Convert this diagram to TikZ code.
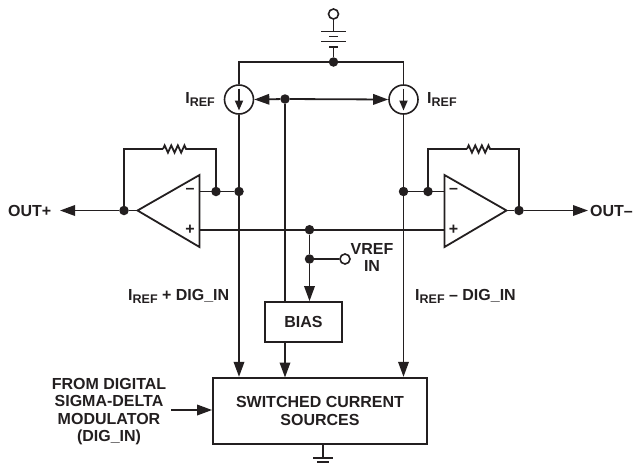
\documentclass[tikz,border=0pt]{standalone}
\usepackage{fontspec}
\setmainfont{Liberation Sans}
\usetikzlibrary{arrows.meta,decorations.pathmorphing}
\definecolor{ink}{HTML}{231F20}
\newcommand{\iref}{I\raisebox{-3pt}{\fontsize{12.5}{13}\selectfont REF}}
\tikzset{
  wire/.style={draw=ink, line width=1.8pt},
  sig/.style={wire, -{Triangle[length=15pt,width=10.5pt]}},
  sigin/.style={wire, -{Triangle[length=10pt,width=8pt]}},
  dot/.style={circle, fill=ink, inner sep=0pt, minimum size=9.5pt},
  term/.style={circle, draw=ink, line width=1.6pt, fill=white, inner sep=0pt, minimum size=10pt},
  isrc/.style={circle, draw=ink, line width=1.6pt, inner sep=0pt, minimum size=29pt},
  blockbox/.style={rectangle, draw=ink, line width=1.8pt, inner sep=0pt},
  lbl/.style={inner sep=0pt, text=ink, font=\bfseries\fontsize{16}{17.5}\selectfont, align=center},
  res/.style={decorate, decoration={zigzag, segment length=6.6pt, amplitude=3.6pt}}
}
\begin{document}
\begin{tikzpicture}[x=1pt, y=-1pt]
\useasboundingbox (0,0) rectangle (634,464);

% supply
\node[term] (vs) at (333.5,14) {};
\node[dot] (jtop) at (333.5,62) {};
\node[isrc] (isrcl) at (239,99.5) {};
\node[isrc] (isrcr) at (403.5,99.5) {};
\coordinate (bat1) at (333.5,31.5);
\coordinate (bat2) at (333.5,36.5);
\coordinate (bat3) at (333.5,41.5);
\coordinate (bat4) at (333.5,47);
\draw[wire] (vs) -- (bat1);
\draw[wire] ([xshift=-12.5pt]bat1) -- ([xshift=12.5pt]bat1);
\draw[wire] ([xshift=-4.5pt]bat2) -- ([xshift=4.5pt]bat2);
\draw[wire] ([xshift=-12.5pt]bat3) -- ([xshift=12.5pt]bat3);
\draw[wire] ([xshift=-4.5pt]bat4) -- ([xshift=4.5pt]bat4);
\draw[wire] (bat4) -- (jtop);
\draw[wire] (isrcl.north) |- (jtop) -| (isrcr.north);
\foreach \s in {isrcl,isrcr}
  \draw[sigin] ([yshift=11pt]\s.center) -- ([yshift=-11pt]\s.center);

% blocks
\node[blockbox, minimum width=77pt, minimum height=40pt] (bias) at (303.5,322) {};
\node[blockbox, minimum width=214pt, minimum height=66.5pt] (sw) at (320,411) {};
\node[lbl] at (bias.center) {BIAS};
\node[lbl] at (sw.center) {SWITCHED CURRENT\\SOURCES};

% bias line
\node[dot] (jbias) at (285,99) {};
\draw[sig] (jbias) -- (isrcl.east);
\draw[sig] (jbias) -- (isrcr.west);
\coordinate (bt) at (285,302);
\draw[wire] (jbias) -- (bt);
\draw[sig] (285,342) -- (285,377.5);

% left amp
\coordinate (ala) at (137.5,210.5);
\coordinate (alt) at (199.5,175);
\coordinate (alb) at (199.5,247);
\draw[wire, line join=miter] (ala) -- (alt) -- (alb) -- cycle;
\node[lbl] at (190,191) {--};
\node[lbl] at (190,229.5) {+};
\node[dot] (jlo) at (124,210.5) {};
\node[dot] (jlf) at (216,191.5) {};
\node[dot] (jli) at (239,191.5) {};
\coordinate (alm) at (199.5,191.5);
\coordinate (alp) at (199.5,229.7);
\draw[wire] (alm) -- (jli);
\draw[wire] (ala) -- (jlo);
\coordinate (rl1) at (163,149);
\coordinate (rl2) at (188,149);
\draw[wire] (jlo) |- (rl1);
\draw[wire, res] (rl1) -- (rl2);
\draw[wire] (rl2) -| (jlf);
\node[lbl, anchor=west] (outp) at (8,210.5) {OUT+};
\draw[sig] (jlo) -- (60,210.5);
\draw[sig] (isrcl.south) -- (isrcl.south |- sw.north);

% right amp
\coordinate (ara) at (506.5,210.5);
\coordinate (art) at (444.5,175);
\coordinate (arb) at (444.5,247);
\draw[wire, line join=miter] (ara) -- (art) -- (arb) -- cycle;
\node[lbl] at (453.5,191) {--};
\node[lbl] at (453.5,229.5) {+};
\node[dot] (jro) at (519,210.5) {};
\node[dot] (jrf) at (428,191.5) {};
\node[dot] (jri) at (403.5,191.5) {};
\coordinate (arm) at (444.5,191.5);
\coordinate (arp) at (444.5,229.7);
\draw[wire] (arm) -- (jri);
\draw[wire] (ara) -- (jro);
\coordinate (rr1) at (467,149);
\coordinate (rr2) at (492,149);
\draw[wire] (jrf) |- (rr1);
\draw[wire, res] (rr1) -- (rr2);
\draw[wire] (rr2) -| (jro);
\node[lbl, anchor=east] (outm) at (633,210.5) {OUT--};
\draw[sig] (jro) -- (588,210.5);
\draw[sig] (isrcr.south) -- (isrcr.south |- sw.north);

% plus inputs and vref
\node[dot] (jp) at (309.5,229.7) {};
\node[dot] (jv) at (309.5,259) {};
\node[term] (vref) at (345,259) {};
\draw[wire] (alp) -- (arp);
\draw[wire] (jp) -- (jv);
\draw[wire] (jv) -- (vref);
\draw[sig] (jv) -- (jv |- bias.north);
\node[lbl] at (372,257.5) {VREF\\IN};

% labels
\node[lbl, anchor=east] at (215,99) {\iref};
\node[lbl, anchor=west] at (427,99) {\iref};
\node[lbl, anchor=west] at (128,296) {\iref{} + DIG\_IN};
\node[lbl, anchor=west] at (415,296) {\iref{} -- DIG\_IN};

% modulator input
\node[lbl] (mod) at (109,411.5) {FROM DIGITAL\\SIGMA-DELTA\\MODULATOR\\(DIG\_IN)};
\coordinate (modo) at (171,410);
\draw[sig] (modo) -- (modo -| sw.west);

% ground
\coordinate (gnd1) at (323,458);
\coordinate (gnd2) at (323,462);
\draw[wire] (gnd1 |- sw.south) -- (gnd1);
\draw[wire] ([xshift=-10pt]gnd1) -- ([xshift=10pt]gnd1);
\draw[wire] ([xshift=-6pt]gnd2) -- ([xshift=6pt]gnd2);
\end{tikzpicture}
\end{document}
